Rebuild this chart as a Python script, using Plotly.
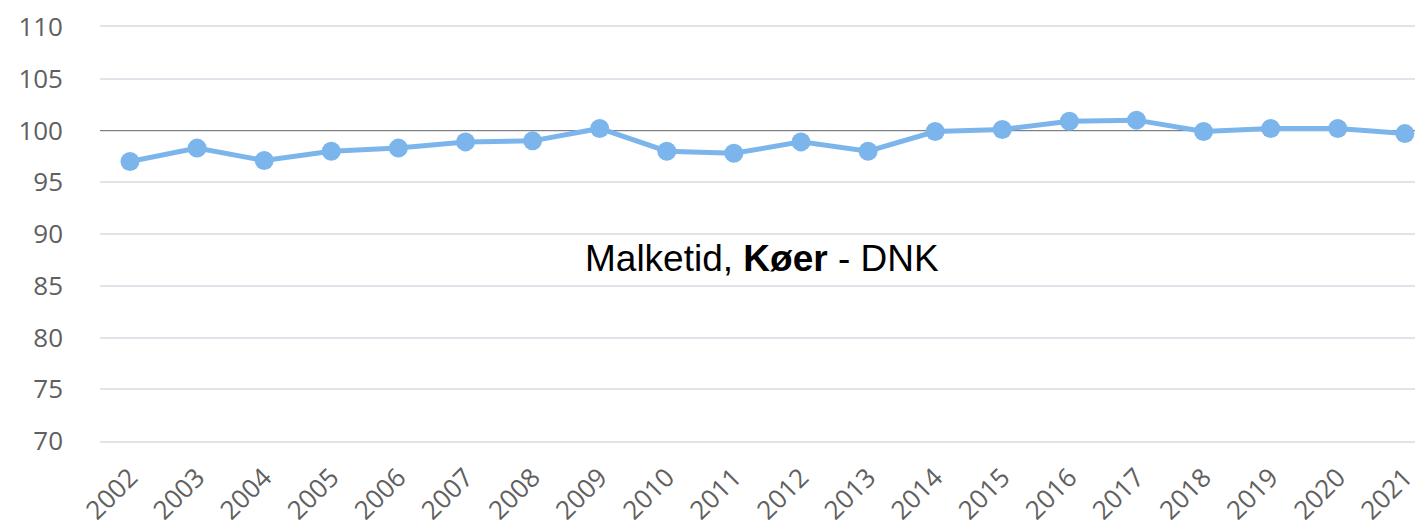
import plotly.graph_objects as go

years = [str(y) for y in range(2002, 2022)]
values = [97.0, 98.3, 97.1, 98.0, 98.3, 98.9, 99.0, 100.2, 98.0, 97.8,
          98.9, 98.0, 99.9, 100.1, 100.9, 101.0, 99.9, 100.2, 100.2, 99.7]
y_ticks = [70, 75, 80, 85, 90, 95, 100, 105, 110]
reference_value = 100
title_html = "Malketid, <b>Køer</b> - DNK"

fig = go.Figure()
# empty trace so the base y-axis (grid + labels) is drawn
fig.add_trace(go.Scatter(x=[], y=[], yaxis="y", showlegend=False, hoverinfo="skip"))
fig.add_trace(go.Scatter(
    x=years, y=values, mode="lines+markers", yaxis="y2",
    line=dict(color="#7cb5ec", width=5),
    marker=dict(color="#7cb5ec", size=19),
    hoverinfo="x+y", showlegend=False,
))

fig.add_annotation(text=title_html, xref="paper", yref="paper",
                   x=0.5, y=0.442, showarrow=False,
                   font=dict(family="Liberation Sans, Arial", size=37, color="#000000"))

fig.update_layout(
    width=1415, height=522,
    margin=dict(l=92, r=0, t=19, b=89),
    paper_bgcolor="white", plot_bgcolor="white",
    font=dict(family="Open Sans", color="#606060"),
    xaxis=dict(
        type="category", range=[-0.447, 19.27],
        tickangle=-45, tickfont=dict(size=26, color="#606060"),
        showgrid=False, zeroline=False,
        showline=True, mirror=True, linecolor="#e0e4ea", linewidth=1.5,
        ticklabelstandoff=9,
    ),
    yaxis=dict(
        range=[70, 110], tickvals=y_ticks,
        tickfont=dict(size=26, color="#606060"),
        showgrid=True, gridcolor="#e0e4ea", gridwidth=1.5,
        zeroline=False, showline=False,
        ticklabelstandoff=36,
    ),
    yaxis2=dict(
        overlaying="y", range=[70, 110], tickvals=[reference_value],
        showticklabels=False, showgrid=True, gridcolor="#7f7f7f",
        gridwidth=1.3, zeroline=False, showline=False,
    ),
)

fig.write_html("out.html")
